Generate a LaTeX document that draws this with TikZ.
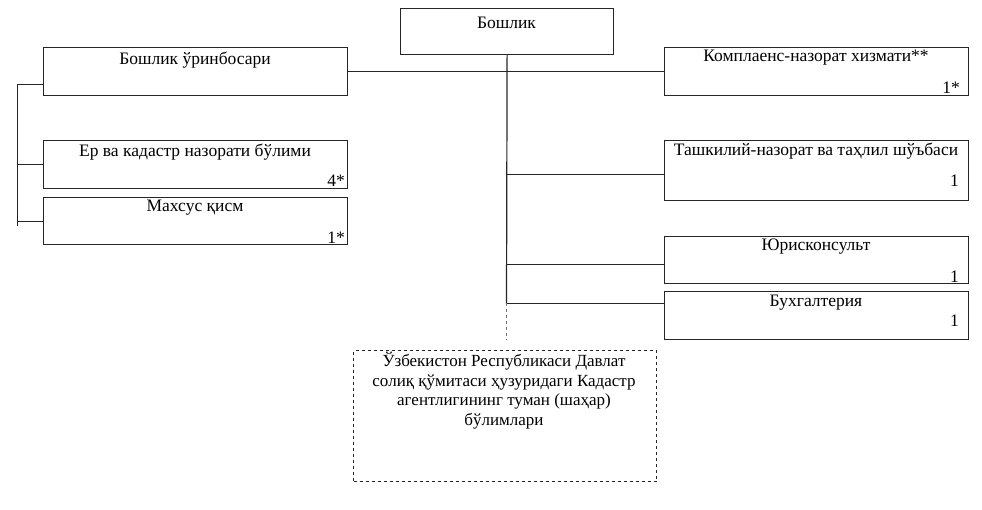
\documentclass[tikz,border=0pt]{standalone}
\usepackage{fontspec}
\setmainfont{Liberation Serif}
\begin{document}
\begin{tikzpicture}[x=1pt,y=-1pt,
  box/.style={draw=black!85,line width=1.2pt,rectangle,anchor=north west,inner sep=0pt},
  txt/.style={inner sep=0pt,font=\fontsize{17.5}{20}\selectfont},
  num/.style={inner sep=0pt,anchor=east,font=\fontsize{17.5}{20}\selectfont},
  ln/.style={draw=black!85,line width=1.2pt}]
\useasboundingbox (0,0) rectangle (982,510);
% boxes
\node[box,minimum width=213pt,minimum height=46pt] (bosh) at (400,8) {};
\node[box,minimum width=304pt,minimum height=48pt] (urin) at (43,47) {};
\node[box,minimum width=304pt,minimum height=48pt] (er) at (43,140) {};
\node[box,minimum width=304pt,minimum height=47pt] (mah) at (43,197) {};
\node[box,minimum width=304pt,minimum height=48pt] (komp) at (664,47) {};
\node[box,minimum width=304pt,minimum height=60pt] (tash) at (664,140) {};
\node[box,minimum width=304pt,minimum height=47pt] (yur) at (664,236) {};
\node[box,minimum width=304pt,minimum height=48pt] (bux) at (664,291) {};
\node[box,dashed,minimum width=303pt,minimum height=131pt] (kad) at (353,350) {};
% texts
\node[txt] (tbosh) at (506.5,23) {Бошлик};
\node[txt] (turin) at (195,60) {Бошлик ўринбосари};
\node[txt] (ter) at (195,152) {Ер ва кадастр назорати бўлими};
\node[txt] (tmah) at (195,208) {Махсус қисм};
\node[txt] (tkomp) at (816,58) {Комплаенс-назорат хизмати**};
\node[txt] (ttash) at (816,151) {Ташкилий-назорат ва таҳлил шўъбаси};
\node[txt] (tyur) at (816,247) {Юрисконсульт};
\node[txt] (tbux) at (816,303) {Бухгалтерия};
\node[num] (ner) at (345,181) {4*};
\node[num] (nmah) at (345,238) {1*};
\node[num] (nkomp) at (960,88) {1*};
\node[num] (ntash) at (959,181) {1};
\node[num] (nyur) at (959,277) {1};
\node[num] (nbux) at (959,321) {1};
\node[txt,align=center,anchor=north,font=\fontsize{17}{19.5}\selectfont] (tkad) at (504,352) {Ўзбекистон Республикаси Давлат\\солиқ қўмитаси ҳузуридаги Кадастр\\агентлигининг туман (шаҳар)\\бўлимлари};
% connectors
\coordinate (jt) at (506.5,174.5);
\coordinate (jy) at (506.5,264.5);
\coordinate (jb) at (506.5,303.5);
\coordinate (de) at (506.5,340);
\draw[ln] (urin.east) -- (komp.west);
\draw[ln] (bosh.south) -- (jb);
\draw[ln] (jt) -- (jt -| tash.west);
\draw[ln] (jy) -- (jy -| yur.west);
\draw[ln] (jb) -- (jb -| bux.west);
\draw[ln,dashed,draw=black!55,line width=0.9pt] (jb) -- (de);
\coordinate (lu) at (17.5,84.5);
\coordinate (lb) at (17.5,226);
\draw[ln] (lu) -- (lb);
\draw[ln] (lu) -- (lu -| urin.west);
\draw[ln] (17.5,164.5) coordinate (le) -- (le -| er.west);
\draw[ln] (17.5,221.5) coordinate (lm) -- (lm -| mah.west);
\end{tikzpicture}
\end{document}
